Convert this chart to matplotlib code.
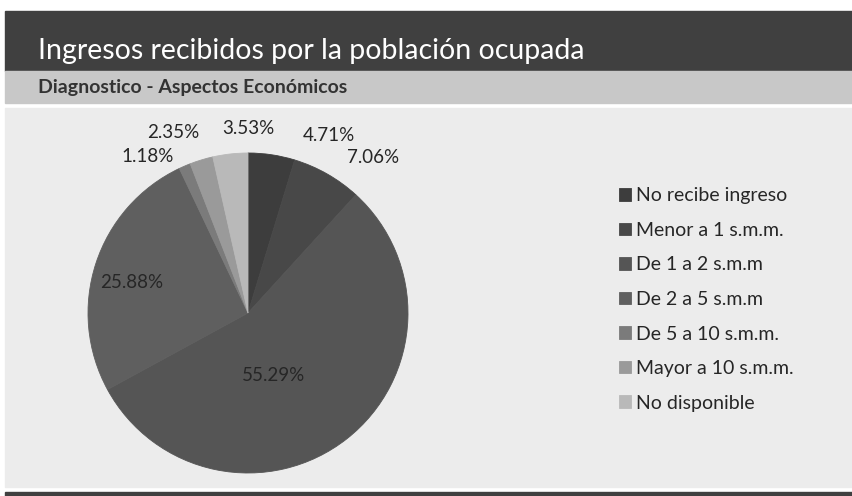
import matplotlib
matplotlib.use("Agg")
import matplotlib.pyplot as plt
from matplotlib.patches import Rectangle

# datos
categorias = ["No recibe ingreso", "Menor a 1 s.m.m.", "De 1 a 2 s.m.m", "De 2 a 5 s.m.m",
              "De 5 a 10 s.m.m.", "Mayor a 10 s.m.m.", "No disponible"]
porcentajes = [4.71, 7.06, 55.29, 25.88, 1.18, 2.35, 3.53]
colores = ["#3d3d3d", "#484848", "#555555", "#5f5f5f", "#7b7b7b", "#9a9a9a", "#b9b9b9"]

# posiciones de las etiquetas (unidades del radio)
pos_etiquetas = [(0.506, 1.11), (0.78, 0.97), (0.16, -0.39), (-0.725, 0.19),
                 (-0.625, 0.975), (-0.47, 1.125), (0.0, 1.15)]

plt.rcParams['font.family'] = ['Lato', 'DejaVu Sans']

W, H = 852, 496
fig = plt.figure(figsize=(W / 100, H / 100), dpi=100)
fig.patch.set_facecolor("white")

def banda(x0, y0, x1, y1, color):
    # coordenadas en pixeles de la imagen (origen arriba)
    fig.patches.append(Rectangle((x0 / W, 1 - y1 / H), (x1 - x0) / W, (y1 - y0) / H,
                                 transform=fig.transFigure, color=color, zorder=-5))

banda(5, 11, 852, 71, "#404040")
banda(5, 71, 852, 103, "#c8c8c8")
banda(5, 108, 852, 487, "#ececec")
banda(5, 492, 852, 496, "#404040")

fig.text(38 / W, 1 - 51 / H, "Ingresos recibidos por la población ocupada",
         color="white", fontsize=20.5, va="center", ha="left")
fig.text(38 / W, 1 - 87 / H, "Diagnostico - Aspectos Económicos",
         color="#333333", fontsize=14, fontweight="bold", va="center", ha="left")

# pastel: centro (248, 313), radio 160 px
r = 170
ax = fig.add_axes([(248 - r) / W, (H - 313 - r) / H, 2 * r / W, 2 * r / H])
wedges, _ = ax.pie(porcentajes, colors=colores, startangle=90, counterclock=False,
                   radius=1.0, wedgeprops=dict(linewidth=0.6))
for w, c in zip(wedges, colores):
    w.set_edgecolor(c)
lim = r / 160
ax.set_xlim(-lim, lim)
ax.set_ylim(-lim, lim)
ax.set_aspect("equal")
ax.axis("off")

for p, (x, y) in zip(porcentajes, pos_etiquetas):
    ax.text(x, y, f"{p:.2f}%", ha="center", va="center", fontsize=13.5, color="#262626")

fig.legend(wedges, categorias, loc="upper left", bbox_to_anchor=(601 / W, 1 - 170 / H),
           frameon=False, fontsize=14, handlelength=0.62, handleheight=0.62,
           handletextpad=0.28, labelspacing=0.9, labelcolor="#262626")

fig.savefig("out.png", dpi=100, facecolor=fig.get_facecolor())
